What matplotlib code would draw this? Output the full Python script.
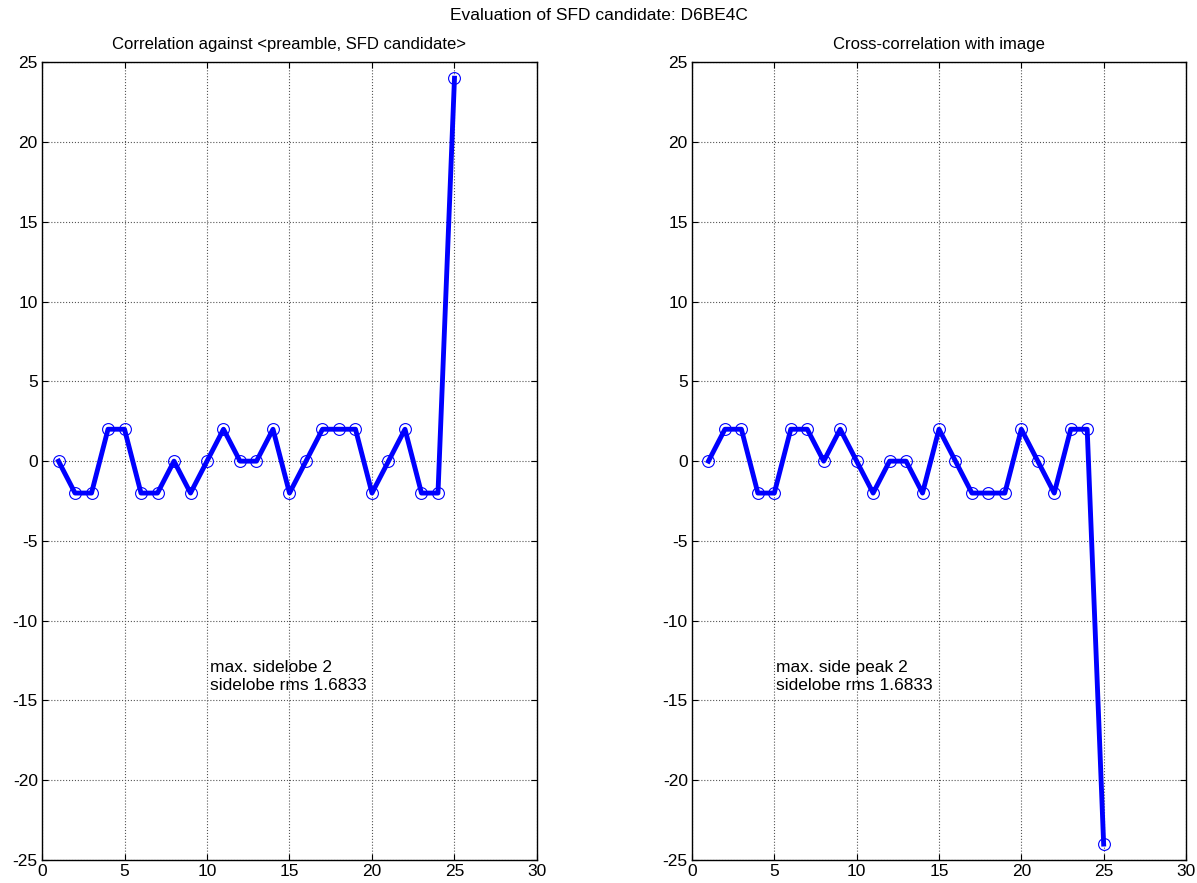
import numpy as np
import matplotlib
matplotlib.use("Agg")
import matplotlib.pyplot as plt

plt.rcParams['font.family'] = ['Liberation Sans', 'DejaVu Sans']
plt.rcParams['axes.unicode_minus'] = False

# correlation of preamble + SFD candidate, lags 1..25
lags = list(range(1, 26))
corr = [0, -2, -2, 2, 2, -2, -2, 0, -2, 0, 2, 0, 0, 2, -2, 0, 2, 2, 2, -2, 0, 2, -2, -2, 24]
# cross-correlation with the image sequence
xcorr = [0, 2, 2, -2, -2, 2, 2, 0, 2, 0, -2, 0, 0, -2, 2, 0, -2, -2, -2, 2, 0, -2, 2, 2, -24]

suptitle = "Evaluation of SFD candidate: D6BE4C"
titles = ["Correlation against <preamble, SFD candidate>", "Cross-correlation with image"]
notes = ["max. sidelobe 2\nsidelobe rms 1.6833", "max. side peak 2\nsidelobe rms 1.6833"]
note_x = [10.2, 5.1]
note_y = -13.5

fs = 12.5
fig = plt.figure(figsize=(11.97, 8.83), dpi=100)
fig.text(0.5, 0.983, suptitle, ha='center', va='center', fontsize=fs)

axes = [fig.add_axes([0.0351, 0.026, 0.4135, 0.9035]),
        fig.add_axes([0.5781, 0.026, 0.4127, 0.9035])]

for ax, y, t, note, nx in zip(axes, [corr, xcorr], titles, notes, note_x):
    ax.plot(lags, y, color='#0000ff', linewidth=3.5, marker='o', markersize=8.5,
            markerfacecolor='none', markeredgecolor='#0000ff', markeredgewidth=0.8)
    ax.set_xlim(0, 30)
    ax.set_ylim(-25, 25)
    ax.set_xticks(range(0, 31, 5))
    ax.set_yticks(range(-25, 26, 5))
    ax.grid(True, color='#555555', linestyle=':', linewidth=0.8)
    ax.tick_params(direction='in', top=True, right=True, length=4, labelsize=fs, pad=3)
    for s in ax.spines.values():
        s.set_linewidth(1.0)
    ax.set_title(t, fontsize=12, pad=9.5)
    ax.text(nx, note_y, note, fontsize=fs, ha='left', va='center', linespacing=1.25)

fig.savefig("out.png", dpi=100)
